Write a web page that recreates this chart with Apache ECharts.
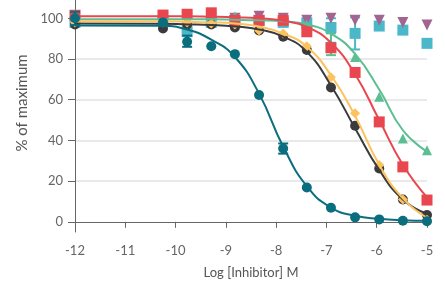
<!DOCTYPE html>
<html>
<head>
<meta charset="utf-8">
<script src="https://cdn.jsdelivr.net/npm/echarts@6/dist/echarts.min.js"></script>
<style>
  html, body { margin: 0; padding: 0; background: #fff; }
  #main { width: 445px; height: 289px; }
</style>
</head>
<body>
<div id="main"></div>
<script>
// log concentrations (3-fold dilution, -12 = control)
var logConc = [-12, -10.25, -9.77, -9.29, -8.82, -8.34, -7.86, -7.39, -6.91, -6.43, -5.95, -5.48, -5];
var yTicks = [0, 20, 40, 60, 80, 100];

// measured points
var tealPts   = [100, 98, 88.5, 86.3, 82.4, 62.3, 36, 16.9, 6.9, 2.2, 1.2, 0.5, 0.3];
var blackPts  = [97, 95, 97, 97, 95.5, 94, 91, 84.4, 66, 47.2, 26.2, 11, 3.3];
var orangePts = [98, 98, 98, 97.5, 97, 94, 92.6, 86.3, 71, 53.3, 27.9, 11, 1];
var redPts    = [101.5, 101.6, 102, 102.7, 99, 99, 99, 93.4, 85.5, 73.4, 49.1, 27, 10.7];
var greenPts  = [99, 99, 99, 99, 101, 99, 99, 97, 87, 81, 61.4, 41, 35.2];
var bluePts   = [98, 99, 93.4, 98, 99, 99, 98, 97.8, 95.5, 92.6, 96.2, 94.2, 87.7];
var purplePts = [100, 100, 100, 100, 100, 101, 100, 99, 100, 99, 99, 98, 96.7];

// fitted curves (at the same concentrations)
var tealFit   = [96.5, 96.3, 94.5, 89.5, 81, 63, 37, 17.5, 7, 3, 1.5, 0.8, 0.5];
var blackFit  = [97.5, 97.3, 97, 96.7, 96, 94.5, 91, 83.5, 67, 46, 25.5, 11, 4];
var orangeFit = [98.5, 98.5, 98.3, 98, 97.5, 96, 92.5, 86, 72, 52, 28, 11.5, 2];
var redFit    = [101, 101, 101, 100.8, 100.5, 100, 98.8, 95.8, 88, 72.5, 50, 28, 12];
var greenFit  = [99.5, 99.5, 99.5, 99.5, 99.3, 99, 98.5, 97, 92.5, 82.5, 65, 45, 34.5];

// error bars [x, low, high]
var tealErr  = [[-12, 96.7, 103.2], [-9.77, 86, 91.5], [-7.86, 33.5, 38.5]];
var blueErr  = [[-6.91, 88, 100], [-6.43, 84.7, 100.5]];
var greenErr = [[-6.91, 81.9, 92.6]];

var C = {
    teal: '#0b6e7f', black: '#3b3b3d', orange: '#fbc25e', red: '#e9474f',
    green: '#5cbf93', blue: '#4bb8c9', purple: '#a26591'
};

function pairs(ys) {
    var out = [];
    for (var i = 0; i < logConc.length; i++) out.push([logConc[i], ys[i]]);
    return out;
}

function fitLine(ys, color) {
    return { type: 'line', data: pairs(ys), smooth: true, showSymbol: false, silent: true,
        lineStyle: { color: color, width: 2 } };
}
function points(ys, color, symbol, size, rotate, z) {
    return { type: 'scatter', data: pairs(ys), symbol: symbol, symbolSize: size, z: z || 2,
        symbolRotate: rotate || 0, itemStyle: { color: color, opacity: 1 } };
}
function errBars(rows, color, z) {
    return {
        type: 'custom', data: rows, clip: false, z: z || 2,
        renderItem: function (params, api) {
            var top = api.coord([api.value(0), api.value(2)]);
            var bot = api.coord([api.value(0), api.value(1)]);
            var w = 5;
            var st = { stroke: color, lineWidth: 2 };
            return { type: 'group', children: [
                { type: 'line', shape: { x1: top[0], y1: top[1], x2: bot[0], y2: bot[1] }, style: st },
                { type: 'line', shape: { x1: top[0] - w, y1: top[1], x2: top[0] + w, y2: top[1] }, style: st },
                { type: 'line', shape: { x1: bot[0] - w, y1: bot[1], x2: bot[0] + w, y2: bot[1] }, style: st }
            ] };
        }
    };
}

var font = 'Lato, "Noto Sans", sans-serif';
var myChart = echarts.init(document.getElementById('main'));
myChart.setOption({
    animation: false,
    grid: { left: 75, right: 18, top: 0, bottom: 57 },
    xAxis: {
        type: 'value', min: -12, max: -5, interval: 1,
        name: 'Log [Inhibitor] M', nameLocation: 'middle', nameGap: 34,
        nameTextStyle: { color: '#555', fontSize: 13, fontFamily: font },
        axisLine: { show: true, lineStyle: { color: '#666' } },
        axisTick: { show: true, length: 6, lineStyle: { color: '#666' } },
        axisLabel: { color: '#666', fontSize: 13, fontFamily: font, margin: 12 },
        splitLine: { show: false }
    },
    yAxis: {
        type: 'value', min: -5, max: 109,
        name: '% of maximum', nameLocation: 'middle', nameGap: 40,
        nameTextStyle: { color: '#555', fontSize: 15, fontFamily: font, padding: [0, 0, 0, 26] },
        axisLine: { show: true, lineStyle: { color: '#666' } },
        axisTick: { show: true, length: 7, customValues: yTicks, lineStyle: { color: '#666' } },
        axisLabel: { color: '#666', fontSize: 13, fontFamily: font, margin: 12, customValues: yTicks },
        splitLine: { show: true, showMinLine: false, showMaxLine: false, lineStyle: { color: '#e2e2e2', width: 1.5 } }
    },
    series: [
        points(bluePts, C.blue, 'rect', 11),
        errBars(blueErr, C.blue),
        points(purplePts, C.purple, 'triangle', 11, 180),
        fitLine(greenFit, C.green),
        errBars(greenErr, C.green),
        points(greenPts, C.green, 'triangle', 10),
        fitLine(blackFit, C.black),
        points(blackPts, C.black, 'circle', 10),
        fitLine(orangeFit, C.orange),
        points(orangePts, C.orange, 'diamond', 10),
        fitLine(redFit, C.red),
        points(redPts, C.red, 'rect', 11),
        fitLine(tealFit, C.teal),
        errBars(tealErr, C.teal, 3),
        points(tealPts, C.teal, 'circle', 10, 0, 3)
    ]
});
</script>
</body>
</html>
